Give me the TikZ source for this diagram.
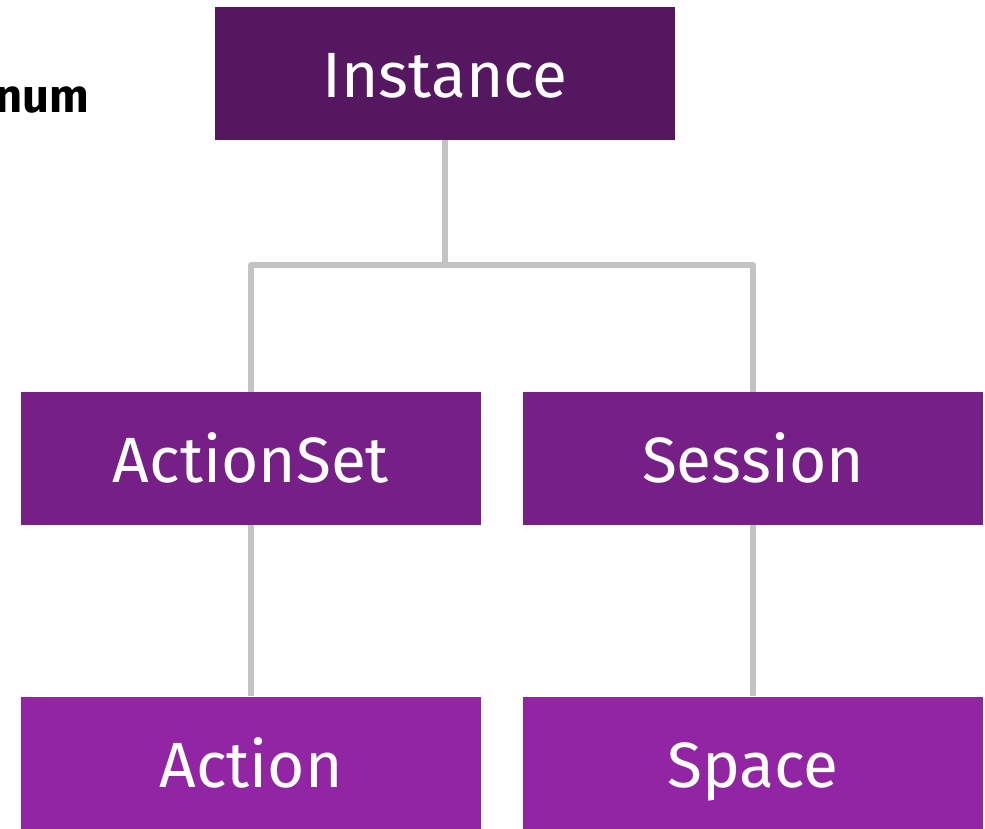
\documentclass[tikz,border=0pt]{standalone}
\usepackage{fontspec}
\setmainfont{Fira Sans}
\definecolor{lvone}{HTML}{561761}
\definecolor{lvtwo}{HTML}{761F87}
\definecolor{lvthree}{HTML}{9125A3}
\definecolor{conn}{HTML}{C3C3C3}
\begin{document}
\begin{tikzpicture}[x=1pt,y=-1pt,
  boxnode/.style={rectangle, minimum width=460pt, minimum height=133pt, inner sep=0pt, text height=60pt, text depth=12pt, text=white, font=\fontsize{64}{76}\selectfont},
  link/.style={draw=conn, line width=6pt}]
\useasboundingbox (0,0) rectangle (985,829);
\node[boxnode, fill=lvone] (inst) at (445,73.5) {Instance};
\node[boxnode, fill=lvtwo] (aset) at (251,458.5) {ActionSet};
\node[boxnode, fill=lvtwo] (sess) at (753,458.5) {Session};
\node[boxnode, fill=lvthree] (act) at (251,763) {Action};
\node[boxnode, fill=lvthree] (spc) at (753,763) {Space};
\node[anchor=base east, inner sep=0pt, font=\bfseries\fontsize{47}{56}\selectfont] (lbl) at (89,113) {num};
\coordinate (junc) at (445,265);
\draw[link] (inst.south) -- (junc);
\draw[link, line join=round] (aset.north) |- (junc) -| (sess.north);
\draw[link] (aset.south) -- (act.north);
\draw[link] (sess.south) -- (spc.north);
\end{tikzpicture}
\end{document}
